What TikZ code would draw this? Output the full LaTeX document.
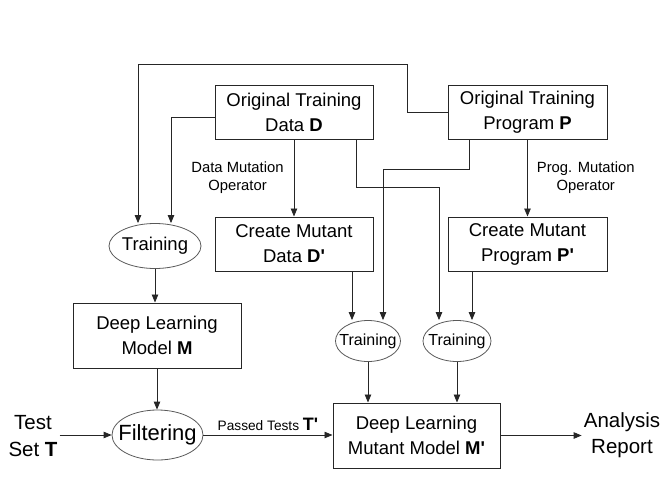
\documentclass[tikz,border=0pt]{standalone}
\usepackage{fontspec}
\setmainfont{Liberation Sans}
\usetikzlibrary{shapes.geometric,arrows.meta}
\newcommand{\mprime}{\textquotesingle}

\begin{document}
\begin{tikzpicture}[x=1pt, y=-1pt,
            box/.style={rectangle, draw=black!85, line width=1pt, minimum width=158pt, minimum height=54pt,
                    align=center, font=\fontsize{18.5}{25}\selectfont},
            oval/.style={ellipse, draw=black!65, line width=0.8pt, inner xsep=-8pt, inner ysep=0pt},
            plain/.style={align=center, inner sep=2pt, font=\fontsize{20.5}{26}\selectfont},
            note/.style={align=center, inner sep=2pt, font=\fontsize{14.8}{18}\selectfont},
            edge/.style={line width=0.8pt, draw=black!85},
            arrow/.style={edge, -{Triangle[length=8pt,width=6.5pt]}}
        ]
        \useasboundingbox (0,0) rectangle (670,496);

        % original training data and program
        \node[box] (dataD) at (294,112) {Original Training\\Data \textbf{D}};
        \node[box, minimum width=159pt] (progP) at (527.5,112) {Original Training\\Program \textbf{P}};

        % mutation operators give the mutants
        \node[box] (mutD) at (294,244) {Create Mutant\\Data \textbf{D\mprime}};
        \node[box, minimum width=159pt] (mutP) at (527.5,244) {Create Mutant\\Program \textbf{P\mprime}};

        % original model branch
        \node[oval, minimum width=92pt, minimum height=45pt, font=\fontsize{18.5}{20}\selectfont] (train) at (155,246) {Training};
        \node[box, minimum width=168pt, minimum height=65pt] (modelM) at (157,335.5) {Deep Learning\\Model \textbf{M}};
        \node[oval, minimum width=91pt, minimum height=50pt, font=\fontsize{22}{24}\selectfont] (filter) at (157.5,435) {Filtering};
        \node[plain, font=\fontsize{20.5}{27}\selectfont] (testT) at (33,436) {Test\\Set \textbf{T}};

        % mutant model branch
        \node[oval, minimum width=65pt, minimum height=41pt, font=\fontsize{16}{18}\selectfont] (trainD) at (368,341) {Training};
        \node[oval, minimum width=68pt, minimum height=41pt, font=\fontsize{16}{18}\selectfont] (trainP) at (457,341) {Training};
        \node[box, minimum width=167pt, minimum height=65pt] (mutM) at (416.5,435.5) {Deep Learning\\Mutant Model \textbf{M\mprime}};
        \node[plain] (report) at (622,435) {Analysis\\Report};

        % bends of the long connectors
        \coordinate (topR) at (407,64);
        \coordinate (topL) at (138,64);
        \coordinate (dBend) at (439,187);
        \coordinate (pBend) at (383,169);

        % into the original training
        \draw[arrow] (progP.west) -| (topR) -- (topL) -- (topL |- train.north);
        \draw[arrow] ([yshift=-5pt]dataD.west) -| ([xshift=16pt]train.north);

        % mutation operators
        \draw[arrow] (dataD) -- (mutD) node[note, midway, left=8pt] {Data Mutation\\Operator};
        \draw[arrow] (progP) -- (mutP) node[note, midway, right=7pt] {Prog. Mutation\\Operator};

        % into the mutant trainings
        \draw[arrow] ([xshift=62pt]dataD.south) |- (dBend) -- (dBend |- trainP.north);
        \draw[arrow] ([xshift=-58.5pt]progP.south) |- (pBend) -- (pBend |- trainD.north);
        \draw[arrow] ([xshift=58pt]mutD.south) -- ([xshift=58pt]mutD.south |- trainD.north);
        \draw[arrow] ([xshift=-55.5pt]mutP.south) -- ([xshift=-55.5pt]mutP.south |- trainP.north);
        \draw[arrow] (trainD.south) -- (trainD.south |- mutM.north);
        \draw[arrow] (trainP.south) -- (trainP.south |- mutM.north);

        % model, filtering and report
        \draw[arrow] (train.south) -- (train.south |- modelM.north);
        \draw[arrow] (modelM.south) -- (modelM.south |- filter.north);
        \draw[arrow] (testT.east |- filter.west) -- (filter.west);
        \draw[arrow] (filter.east) -- (filter.east -| mutM.west)
            node[midway, above=1pt, font=\fontsize{13.7}{16}\selectfont] {Passed Tests {\fontsize{18}{18}\selectfont\textbf{T\mprime}}};
        \draw[arrow] (mutM.east) -- (mutM.east -| report.west);
    \end{tikzpicture}
\end{document}
